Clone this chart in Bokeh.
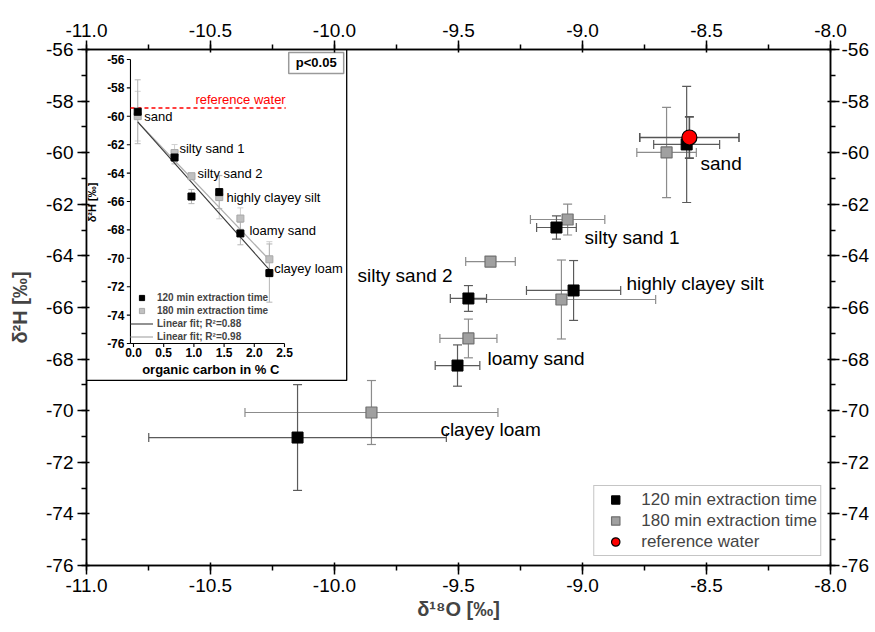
import math
from bokeh.plotting import figure
from bokeh.models import (Range1d, LinearAxis, SingleIntervalTicker, NumeralTickFormatter,
                          ColumnDataSource, Legend, LegendItem)
from bokeh.core.properties import value
from bokeh.embed import file_html
from bokeh.resources import INLINE

FONT = "Liberation Sans"

# ---------------- data ----------------
soils = ["sand", "silty sand 1", "silty sand 2", "highly clayey silt", "loamy sand", "clayey loam"]

d18O_120 = [-8.58, -9.105, -9.46, -9.036, -9.504, -10.149]
d18O_120_err = [0.133, 0.08, 0.073, 0.19, 0.09, 0.6]
d2H_120 = [-59.68, -62.9, -65.65, -65.34, -68.25, -71.04]
d2H_120_err = [2.25, 0.45, 0.5, 1.16, 0.8, 2.05]

d18O_180 = [-8.661, -9.06, -9.371, -9.085, -9.46, -9.851]
d18O_180_err = [0.12, 0.15, 0.1, 0.38, 0.115, 0.51]
d2H_180 = [-59.99, -62.59, -64.22, -65.69, -67.2, -70.07]
d2H_180_err = [1.75, 0.6, 0.1, 1.53, 0.75, 1.24]

ref_d18O = [-8.569]
ref_d18O_err = [0.2]
ref_d2H = [-59.41]
ref_d2H_err = [0.8]

organic_carbon = [0.07, 0.68, 0.96, 1.42, 1.77, 2.25]

fit_x = [0.07, 2.27]
fit120_y = [-60.4, -70.9]
fit180_y = [-60.4, -70.2]

inset_x_ticks = [0.0, 0.5, 1.0, 1.5, 2.0, 2.5]
inset_x_labels = ["0.0", "0.5", "1.0", "1.5", "2.0", "2.5"]
inset_y_ticks = [-56, -58, -60, -62, -64, -66, -68, -70, -72, -74, -76]
inset_y_labels = ["-56", "-58", "-60", "-62", "-64", "-66", "-68", "-70", "-72", "-74", "-76"]

# label positions (annotation placement)
main_lab_x = [-8.524, -8.992, -9.907, -8.823, -9.383, -9.573]
main_lab_y = [-60.42, -63.29, -64.76, -65.07, -67.98, -70.73]
inset_lab_x = [0.18, 0.76, 1.06, 1.54, 1.92, 2.33]
inset_lab_y = [-60.01, -62.27, -64.03, -65.72, -68.04, -70.72]

# inset placement (extra ranges mapping the inset onto the top-left of the frame)
INSET_X = (-0.778, 11.54)
INSET_Y = (-91.634, -55.296)
INSET_BOX = (-0.778, 3.53, -78.6, -55.296)  # left, right, bottom, top

# ---------------- figure ----------------
p = figure(width=875, height=632, x_range=Range1d(-11, -8), y_range=Range1d(-76, -56),
           output_backend="svg", toolbar_location=None,
           min_border_left=86, min_border_right=45, min_border_top=49, min_border_bottom=67,
           background_fill_color="white", border_fill_color="white")
p.grid.visible = False
p.outline_line_color = "black"
p.outline_line_width = 1.5
p.add_layout(LinearAxis(), "right")
p.add_layout(LinearAxis(), "above")
p.extra_x_ranges = {"ix": Range1d(*INSET_X)}
p.extra_y_ranges = {"iy": Range1d(*INSET_Y)}

for ax in p.xaxis:
    ax.ticker = SingleIntervalTicker(interval=0.5, num_minor_ticks=2)
    ax.formatter = NumeralTickFormatter(format="0.0")
for ax in p.yaxis:
    ax.ticker = SingleIntervalTicker(interval=2, num_minor_ticks=2)
    ax.formatter = NumeralTickFormatter(format="0")
for ax in list(p.xaxis) + list(p.yaxis):
    ax.axis_line_width = 1.5
    ax.major_tick_line_width = 1.5
    ax.minor_tick_line_width = 1.5
    ax.major_tick_out = 9
    ax.major_tick_in = 3
    ax.minor_tick_out = 5
    ax.minor_tick_in = 0
    ax.major_label_text_font = FONT
    ax.major_label_text_font_size = "19px"
    ax.major_label_text_color = "black"
    ax.major_label_standoff = 4
    ax.axis_label_text_font = FONT
    ax.axis_label_text_font_size = "20px"
    ax.axis_label_text_font_style = "bold"
    ax.axis_label_standoff = 4

p.below[0].axis_label = "δ¹⁸O [‰]"
p.below[0].axis_label_standoff = 3
p.left[0].axis_label = "δ²H [‰]"
p.left[0].axis_label_standoff = 12
p.right[0].major_label_standoff = 2

# ---------------- main error bars ----------------
def errbars(xs, xe, ys, ye, color, width, cap, **kw):
    src = ColumnDataSource(dict(
        x=xs, y=ys,
        xl=[a - b for a, b in zip(xs, xe)], xh=[a + b for a, b in zip(xs, xe)],
        yl=[a - b for a, b in zip(ys, ye)], yh=[a + b for a, b in zip(ys, ye)]))
    p.segment(x0="xl", y0="y", x1="xh", y1="y", source=src, line_color=color, line_width=width, **kw)
    p.segment(x0="x", y0="yl", x1="x", y1="yh", source=src, line_color=color, line_width=width, **kw)
    p.scatter(x="xl", y="y", source=src, marker="dash", angle=math.pi / 2, size=cap,
              line_color=color, line_width=width, **kw)
    p.scatter(x="xh", y="y", source=src, marker="dash", angle=math.pi / 2, size=cap,
              line_color=color, line_width=width, **kw)
    p.scatter(x="x", y="yl", source=src, marker="dash", size=cap, line_color=color, line_width=width, **kw)
    p.scatter(x="x", y="yh", source=src, marker="dash", size=cap, line_color=color, line_width=width, **kw)

errbars(d18O_180, d18O_180_err, d2H_180, d2H_180_err, "#8c8c8c", 1.2, 9)
errbars(d18O_120, d18O_120_err, d2H_120, d2H_120_err, "#5a5a5a", 1.2, 9)
errbars(ref_d18O, ref_d18O_err, ref_d2H, ref_d2H_err, "#555555", 1.6, 9)

r180 = p.scatter(d18O_180, d2H_180, marker="square", size=11, fill_color="#a0a0a0",
                 line_color="#707070", line_width=1.2)
r120 = p.scatter(d18O_120, d2H_120, marker="square", size=11, fill_color="black",
                 line_color="black")
rref = p.scatter(ref_d18O, ref_d2H, marker="circle", size=15, fill_color="#ff0000",
                 line_color="black", line_width=1.2)

p.text(x=main_lab_x, y=main_lab_y, text=soils, text_align="left", text_baseline="middle",
       text_font=value(FONT), text_font_size="19px", text_color="black")

main_legend = Legend(items=[LegendItem(label="120 min extraction time", renderers=[r120]),
                            LegendItem(label="180 min extraction time", renderers=[r180]),
                            LegendItem(label="reference water", renderers=[rref])],
                     location="bottom_right", margin=9, padding=3, spacing=0,
                     glyph_width=36, glyph_height=21, label_height=21, label_standoff=8,
                     label_text_font=FONT, label_text_font_size="17px",
                     border_line_color="#8c8c8c", border_line_width=1.5,
                     background_fill_color="white", background_fill_alpha=1.0)
p.add_layout(main_legend)

# ---------------- inset ----------------
IR = dict(x_range_name="ix", y_range_name="iy")
p.quad(left=[INSET_BOX[0]], right=[INSET_BOX[1]], bottom=[INSET_BOX[2]], top=[INSET_BOX[3]],
       fill_color="white", line_color="black", line_width=1.3, **IR)

# inset axes
p.line(x=[-0.05, -0.05], y=[inset_y_ticks[-1], inset_y_ticks[0]], line_color="black", line_width=1.1, **IR)
p.line(x=[-0.05, inset_x_ticks[-1]], y=[-76, -76], line_color="black", line_width=1.1, **IR)
p.segment(x0=[-0.05] * len(inset_y_ticks), y0=inset_y_ticks, x1=[-0.11] * len(inset_y_ticks),
          y1=inset_y_ticks, line_color="black", line_width=1.1, **IR)
p.segment(x0=inset_x_ticks, y0=[-76] * len(inset_x_ticks), x1=inset_x_ticks,
          y1=[-76.25] * len(inset_x_ticks), line_color="black", line_width=1.1, **IR)
p.text(x=[-0.05] * len(inset_y_ticks), y=inset_y_ticks, text=inset_y_labels, x_offset=-6,
       text_align="right", text_baseline="middle", text_font=value(FONT), text_font_size="12px",
       text_font_style="bold", **IR)
p.text(x=inset_x_ticks, y=[-76] * len(inset_x_ticks), text=inset_x_labels, y_offset=5,
       text_align="center", text_baseline="top", text_font=value(FONT), text_font_size="12px",
       text_font_style="bold", **IR)
p.text(x=[1.28], y=[-76], text=["organic carbon in % C"], y_offset=19, text_align="center",
       text_baseline="top", text_font=value(FONT), text_font_size="13px", text_font_style="bold", **IR)
p.text(x=[-0.68], y=[-66.07], text=["δ²H [‰]"], angle=math.pi / 2, text_align="center",
       text_baseline="middle", text_font=value(FONT), text_font_size="11px", text_font_style="bold", **IR)

# reference water line
p.line(x=[-0.05, 2.52], y=[ref_d2H[0], ref_d2H[0]], line_color="#ff0000", line_width=1.5,
       line_dash="4 3", **IR)
p.text(x=[2.52], y=[ref_d2H[0]], text=["reference water"], y_offset=-1, text_align="right",
       text_baseline="bottom", text_font=value(FONT), text_font_size="13px", text_color="#ff0000", **IR)

# inset error bars
def inset_err(xs, ys, ye, color):
    src = ColumnDataSource(dict(x=xs, yl=[a - b for a, b in zip(ys, ye)],
                                yh=[a + b for a, b in zip(ys, ye)]))
    p.segment(x0="x", y0="yl", x1="x", y1="yh", source=src, line_color=color, line_width=1, **IR)
    p.scatter(x="x", y="yl", source=src, marker="dash", size=6, line_color=color, line_width=1, **IR)
    p.scatter(x="x", y="yh", source=src, marker="dash", size=6, line_color=color, line_width=1, **IR)

inset_err(organic_carbon, d2H_180, d2H_180_err, "#cfcfcf")
inset_err(organic_carbon, d2H_120, d2H_120_err, "#b5b5b5")

# fit lines
rf180 = p.line(x=fit_x, y=fit180_y, line_color="#b0b0b0", line_width=1.3, **IR)
rf120 = p.line(x=fit_x, y=fit120_y, line_color="#3a3a3a", line_width=1.1, **IR)

ri180 = p.scatter(organic_carbon, d2H_180, marker="square", size=7, fill_color="#c0c0c0",
                  line_color="#a8a8a8", **IR)
ri120 = p.scatter(organic_carbon, d2H_120, marker="square", size=7, fill_color="black",
                  line_color="black", **IR)

p.text(x=inset_lab_x, y=inset_lab_y, text=soils, text_align="left", text_baseline="middle",
       text_font=value(FONT), text_font_size="13px", text_color="black", **IR)

# p<0.05 box
p.quad(left=[2.57], right=[3.48], bottom=[-56.99], top=[-55.5], fill_color="white",
       line_color="#9a9a9a", line_width=1.5, **IR)
p.text(x=[3.025], y=[-56.245], text=["p<0.05"], text_align="center", text_baseline="middle",
       text_font=value(FONT), text_font_size="13px", text_font_style="bold", **IR)

inset_legend = Legend(items=[LegendItem(label="120 min extraction time", renderers=[ri120]),
                             LegendItem(label="180 min extraction time", renderers=[ri180]),
                             LegendItem(label="Linear fit; R²=0.88", renderers=[rf120]),
                             LegendItem(label="Linear fit; R²=0.98", renderers=[rf180])],
                      location=(44, 222), margin=0, padding=0, spacing=0,
                      glyph_width=23, glyph_height=13, label_height=13, label_standoff=4,
                      label_text_font=FONT, label_text_font_size="10px",
                      label_text_font_style="bold", border_line_color=None,
                      background_fill_alpha=0)
p.add_layout(inset_legend)

open("out.html", "w").write(file_html(p, INLINE))
